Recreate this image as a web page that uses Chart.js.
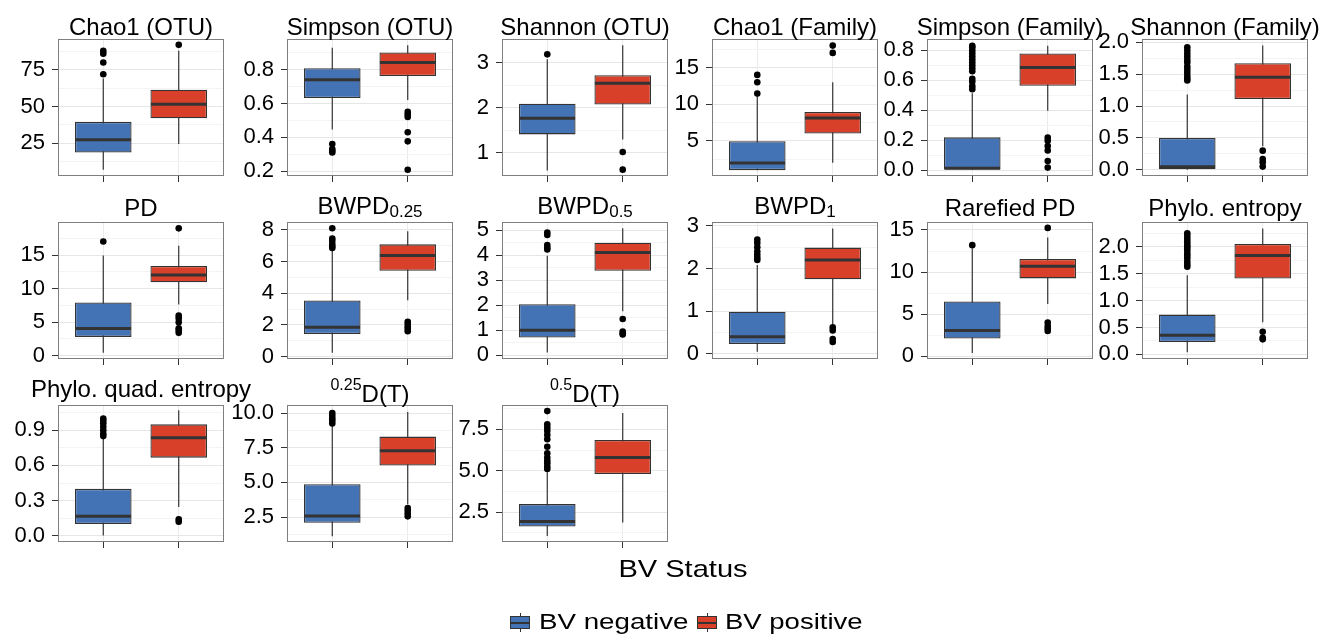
<!DOCTYPE html>
<html>
<head>
<meta charset="utf-8">
<script src="https://cdn.jsdelivr.net/npm/chart.js@4.4.1/dist/chart.umd.min.js"></script>
<style>
html, body { margin: 0; padding: 0; background: #fff; }
#root { position: relative; width: 1320px; height: 637px; overflow: hidden; font-family: 'Liberation Sans', Arial, Helvetica, sans-serif; color: #000; }
#root canvas { position: absolute; }
.ptitle { position: absolute; white-space: nowrap; font-size: 24px; line-height: 24px; transform: translateX(-50%); }
.sub { font-size: 17px; line-height: 0; position: relative; top: 3px; }
.sup { font-size: 16px; line-height: 0; position: relative; top: -12px; }
.xtitle { position: absolute; white-space: nowrap; font-size: 24px; line-height: 24px; transform: translateX(-50%) scaleX(1.21); }
.ltext { position: absolute; white-space: nowrap; font-size: 22px; line-height: 22px; transform-origin: 0 50%; }
.key { position: absolute; width: 20px; height: 19px; }
.key .wh { position: absolute; left: 9.5px; top: 0; width: 1px; height: 19px; background: #333; }
.key .bx { position: absolute; left: 0; top: 3px; width: 18px; height: 11px; border: 1px solid #333; }
.key .md { position: absolute; left: 0; top: 8.5px; width: 20px; height: 2px; background: #333; }
</style>
</head>
<body>
<div id="root"></div>
<script>
// ---------------- data ----------------
const groups = ['BV negative', 'BV positive'];

const titleMain = ['Chao1 (OTU)', 'Simpson (OTU)', 'Shannon (OTU)', 'Chao1 (Family)', 'Simpson (Family)', 'Shannon (Family)',
  'PD', 'BWPD', 'BWPD', 'BWPD', 'Rarefied PD', 'Phylo. entropy',
  'Phylo. quad. entropy', 'D(T)', 'D(T)'];
const titleSub = ['', '', '', '', '', '', '', '0.25', '0.5', '1', '', '', '', '', ''];
const titleSup = ['', '', '', '', '', '', '', '', '', '', '', '', '', '0.25', '0.5'];

// box statistics: lower whisker, Q1, median, Q3, upper whisker
const negLow  = [6.8, 0.446, 0.61, 1.0, 0, 0, 0.45, 0.25, 0.11, 0.05, 0.4, 0.04, 0.003, 1.12, 1.06];
const negQ1   = [18.6, 0.632, 1.41, 1.0, 0, 0, 2.8, 1.43, 0.71, 0.23, 2.1, 0.23, 0.1, 2.09, 1.63];
const negMed  = [27.3, 0.74, 1.77, 1.96, 0.011, 0.047, 4.05, 1.85, 1.0, 0.40, 3.05, 0.355, 0.166, 2.57, 1.93];
const negQ3   = [39.5, 0.808, 2.09, 4.95, 0.218, 0.5, 7.95, 3.54, 2.04, 0.99, 6.5, 0.74, 0.40, 4.86, 2.98];
const negHigh = [69, 0.93, 3.07, 11.0, 0.512, 1.18, 14.95, 6.8, 3.97, 2.08, 12.8, 1.47, 0.835, 9.1, 4.9];

const posLow  = [24.5, 0.62, 1.3, 2.0, 0.395, 0.37, 7.65, 3.55, 1.76, 0.7, 6.2, 0.6, 0.245, 3.42, 1.87];
const posQ1   = [42, 0.762, 2.07, 6.0, 0.562, 1.11, 10.95, 5.41, 3.37, 1.75, 9.25, 1.41, 0.666, 6.22, 4.8];
const posMed  = [51.5, 0.842, 2.54, 8.13, 0.684, 1.45, 12.05, 6.38, 4.1, 2.2, 10.7, 1.84, 0.835, 7.28, 5.79];
const posQ3   = [61.4, 0.901, 2.72, 8.95, 0.778, 1.67, 13.4, 7.08, 4.49, 2.49, 11.55, 2.05, 0.95, 8.3, 6.86];
const posHigh = [88, 0.944, 3.38, 13.0, 0.83, 1.95, 16.4, 7.9, 5.07, 2.94, 14.1, 2.34, 1.07, 10.07, 8.49];

const negOutliers = [
  [72, 80, 86, 88],
  [0.36, 0.33, 0.32, 0.31],
  [3.18],
  [11.45, 13.0, 14.0],
  [0.54, 0.56, 0.59, 0.61, 0.66, 0.68, 0.70, 0.72, 0.74, 0.76, 0.78, 0.80, 0.82, 0.83],
  [1.40, 1.43, 1.47, 1.52, 1.57, 1.62, 1.68, 1.72, 1.77, 1.82, 1.87, 1.92],
  [17.05],
  [6.85, 6.95, 7.1, 7.3, 7.45, 8.1],
  [4.22, 4.3, 4.4, 4.8, 4.9],
  [2.2, 2.25, 2.32, 2.4, 2.5, 2.6, 2.68],
  [13.2],
  [1.63, 1.67, 1.72, 1.78, 1.83, 1.87, 1.92, 1.97, 2.01, 2.05, 2.1, 2.15, 2.2, 2.25],
  [0.85, 0.87, 0.9, 0.93, 0.96, 0.98, 1.0],
  [9.25, 9.45, 9.6, 9.8, 10.0],
  [5.1, 5.25, 5.45, 5.6, 5.8, 6.05, 6.45, 6.9, 7.15, 7.4, 7.6, 7.8, 8.6]
];
const posOutliers = [
  [92],
  [0.55, 0.535, 0.52, 0.43, 0.376, 0.208],
  [1.02, 0.63],
  [17.0, 18.0],
  [0.216, 0.195, 0.16, 0.13, 0.06, 0.016],
  [0.30, 0.17, 0.12, 0.05],
  [19.0, 6.0, 5.6, 5.0, 4.1, 3.8, 3.4],
  [2.2, 2.05, 1.9, 1.75, 1.6],
  [1.45, 0.95, 0.88, 0.83],
  [0.62, 0.55, 0.35, 0.28],
  [15.25, 4.0, 3.6, 3.3, 3.0],
  [0.42, 0.31, 0.28],
  [0.14, 0.12],
  [3.15, 2.95, 2.75, 2.55],
  []
];

const yTickValues = [
  [25, 50, 75], [0.2, 0.4, 0.6, 0.8], [1, 2, 3], [5, 10, 15], [0, 0.2, 0.4, 0.6, 0.8], [0, 0.5, 1, 1.5, 2],
  [0, 5, 10, 15], [0, 2, 4, 6, 8], [0, 1, 2, 3, 4, 5], [0, 1, 2, 3], [0, 5, 10, 15], [0, 0.5, 1, 1.5, 2],
  [0, 0.3, 0.6, 0.9], [2.5, 5, 7.5, 10], [2.5, 5, 7.5]
];
const yTickLabels = [
  ['25', '50', '75'], ['0.2', '0.4', '0.6', '0.8'], ['1', '2', '3'], ['5', '10', '15'],
  ['0.0', '0.2', '0.4', '0.6', '0.8'], ['0.0', '0.5', '1.0', '1.5', '2.0'],
  ['0', '5', '10', '15'], ['0', '2', '4', '6', '8'], ['0', '1', '2', '3', '4', '5'], ['0', '1', '2', '3'],
  ['0', '5', '10', '15'], ['0.0', '0.5', '1.0', '1.5', '2.0'],
  ['0.0', '0.3', '0.6', '0.9'], ['2.5', '5.0', '7.5', '10.0'], ['2.5', '5.0', '7.5']
];
const yMin = [2.6, 0.171, 0.49, 0.2, -0.04, -0.097, -0.5, -0.15, -0.15, -0.12, -0.32, -0.085, -0.053, 0.7, 0.69];
const yMax = [96, 0.981, 3.52, 18.9, 0.875, 2.05, 19.95, 8.49, 5.32, 3.09, 15.95, 2.46, 1.115, 10.58, 8.97];

// ---------------- styles / layout ----------------
const groupColors = ['#4473B5', '#D8402A'];
const edgeColor = '#333333';
const FONT = "'Liberation Sans', Arial, Helvetica, sans-serif";
const colLeft = [58, 287, 502, 712, 927, 1142];
const rowTop = [39, 222, 405];
const plotW = 166, plotH = 137;
const AXW = 62, PADT = 23, PADR = 4, XH = 8, PADB = 15;

const root = document.getElementById('root');

const medianPlugin = {
  id: 'medianLines',
  afterDatasetsDraw(chart) {
    const ctx = chart.ctx;
    const ys = chart.scales.y;
    chart.data.datasets.forEach((ds, di) => {
      if (!ds.medians) return;
      const meta = chart.getDatasetMeta(di);
      meta.data.forEach((bar, j) => {
        const y = ys.getPixelForValue(ds.medians[j]);
        const props = bar.getProps(['x', 'width'], true);
        ctx.save();
        ctx.strokeStyle = edgeColor;
        ctx.lineWidth = 3;
        ctx.beginPath();
        ctx.moveTo(props.x - props.width / 2 + 0.5, y);
        ctx.lineTo(props.x + props.width / 2 - 0.5, y);
        ctx.stroke();
        ctx.restore();
      });
    });
  }
};

const panelBorder = {
  id: 'panelBorder',
  afterDraw(chart) {
    const { ctx, chartArea: a } = chart;
    ctx.save();
    ctx.strokeStyle = '#7f7f7f';
    ctx.lineWidth = 1;
    ctx.strokeRect(Math.round(a.left) + 0.5, Math.round(a.top) + 0.5,
      Math.round(a.right - a.left) - 1, Math.round(a.bottom - a.top) - 1);
    ctx.restore();
  }
};

function titleBaselineGap(i) {
  const row = Math.floor(i / 6);
  if (row === 0) return 4;
  if (row === 1) return titleSub[i] ? 8 : 6;
  return titleSup[i] ? 3 : 7.5;
}

function buildPanel(i) {
  const col = i % 6, row = Math.floor(i / 6);
  const L = colLeft[col], T = rowTop[row];
  const cw = AXW + plotW + PADR, ch = PADT + plotH + XH + PADB;
  const cv = document.createElement('canvas');
  cv.width = cw; cv.height = ch;
  cv.style.left = (L - AXW) + 'px';
  cv.style.top = (T - PADT) + 'px';
  cv.style.width = cw + 'px';
  cv.style.height = ch + 'px';
  root.appendChild(cv);

  const stats = [
    [negLow[i], negQ1[i], negMed[i], negQ3[i], negHigh[i]],
    [posLow[i], posQ1[i], posMed[i], posQ3[i], posHigh[i]]
  ];
  const outs = [negOutliers[i], posOutliers[i]];
  const majors = yTickValues[i];
  const step = majors[1] - majors[0];
  const minors = [];
  for (let k = Math.floor(yMin[i] / step) - 1; k <= Math.ceil(yMax[i] / step) + 1; k++) {
    const v = (k + 0.5) * step;
    if (v > yMin[i] && v < yMax[i]) minors.push(v);
  }
  const allTicks = majors.concat(minors).sort((a, b) => a - b);
  const majorIndex = v => majors.findIndex(m => Math.abs(m - v) < step * 1e-6);

  const datasets = [];
  groups.forEach((g, gi) => {
    datasets.push({
      type: 'line', label: g + ' whisker',
      data: [{ x: gi + 1, y: stats[gi][0] }, { x: gi + 1, y: stats[gi][4] }],
      borderColor: edgeColor, borderWidth: 1.2, pointRadius: 0, fill: false, order: 3
    });
  });
  datasets.push({
    type: 'bar', label: 'box',
    data: groups.map((g, gi) => ({ x: gi + 1, y: [stats[gi][1], stats[gi][3]] })),
    medians: groups.map((g, gi) => stats[gi][2]),
    backgroundColor: groupColors, borderColor: edgeColor, borderWidth: 1.3,
    borderSkipped: false, grouped: false, categoryPercentage: 1, barPercentage: 0.75, order: 2
  });
  groups.forEach((g, gi) => {
    datasets.push({
      type: 'scatter', label: g + ' outliers',
      data: outs[gi].map(v => ({ x: gi + 1, y: v })),
      pointRadius: 3.3, pointBackgroundColor: '#000', pointBorderWidth: 0, order: 1
    });
  });

  new Chart(cv, {
    type: 'bar',
    data: { datasets },
    options: {
      responsive: false, animation: false, devicePixelRatio: 1, events: [],
      layout: { padding: { top: PADT, right: PADR, bottom: PADB, left: 0 } },
      plugins: { legend: { display: false }, tooltip: { enabled: false }, title: { display: false } },
      scales: {
        x: {
          type: 'linear', min: 0.4, max: 2.6, offset: false,
          afterBuildTicks: s => { s.ticks = groups.map((g, gi) => ({ value: gi + 1 })); },
          afterFit: s => { s.height = XH; },
          ticks: { display: false },
          grid: { offset: false, color: '#ebebeb', lineWidth: 1, tickColor: edgeColor, tickLength: 6, tickWidth: 1 },
          border: { display: false }
        },
        y: {
          type: 'linear', min: yMin[i], max: yMax[i], beginAtZero: false,
          afterBuildTicks: s => { s.ticks = allTicks.map(v => ({ value: v })); },
          afterFit: s => { s.width = AXW; },
          ticks: {
            autoSkip: false, padding: 7, color: '#000',
            font: { family: FONT, size: 22 },
            callback: v => { const k = majorIndex(v); return k >= 0 ? yTickLabels[i][k] : ''; }
          },
          grid: {
            color: c => (majorIndex(c.tick.value) >= 0 ? '#e6e6e6' : '#f4f4f4'),
            tickColor: c => (majorIndex(c.tick.value) >= 0 ? edgeColor : 'rgba(0,0,0,0)'),
            lineWidth: 1, tickLength: 6, tickWidth: 1
          },
          border: { display: false }
        }
      }
    },
    plugins: [medianPlugin, panelBorder]
  });

  // panel title (real text, with sub/superscripts)
  const t = document.createElement('div');
  t.className = 'ptitle';
  if (titleSup[i]) {
    const s = document.createElement('span'); s.className = 'sup'; s.textContent = titleSup[i]; t.appendChild(s);
  }
  t.appendChild(document.createTextNode(titleMain[i]));
  if (titleSub[i]) {
    const s = document.createElement('span'); s.className = 'sub'; s.textContent = titleSub[i]; t.appendChild(s);
  }
  const baseline = T - titleBaselineGap(i);
  t.style.left = (L + plotW / 2) + 'px';
  t.style.top = (baseline - 20.3) + 'px';
  root.appendChild(t);
}

for (let i = 0; i < titleMain.length; i++) buildPanel(i);

// x-axis title
const xt = document.createElement('div');
xt.className = 'xtitle';
xt.textContent = 'BV Status';
xt.style.left = '682.5px';
xt.style.top = (577.3 - 20.3) + 'px';
root.appendChild(xt);

// legend
const keyLeft = [510, 697];
const textLeft = [539, 725];
const textStretch = [1.26, 1.25];
groups.forEach((g, gi) => {
  const k = document.createElement('div');
  k.className = 'key';
  k.style.left = keyLeft[gi] + 'px';
  k.style.top = '613px';
  const wh = document.createElement('div'); wh.className = 'wh';
  const bx = document.createElement('div'); bx.className = 'bx'; bx.style.background = groupColors[gi];
  const md = document.createElement('div'); md.className = 'md';
  k.appendChild(wh); k.appendChild(bx); k.appendChild(md);
  root.appendChild(k);
  const tx = document.createElement('div');
  tx.className = 'ltext';
  tx.textContent = g;
  tx.style.left = textLeft[gi] + 'px';
  tx.style.top = (629.3 - 18.6) + 'px';
  tx.style.transform = 'scaleX(' + textStretch[gi] + ')';
  root.appendChild(tx);
});
</script>
</body>
</html>
